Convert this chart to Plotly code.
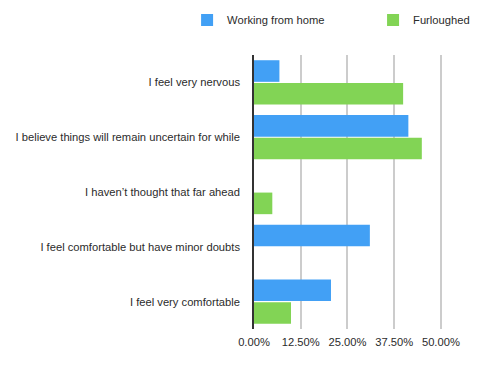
import plotly.graph_objects as go

categories = [
    "I feel very nervous",
    "I believe things will remain uncertain for while",
    "I haven\u2019t thought that far ahead",
    "I feel comfortable but have minor doubts",
    "I feel very comfortable",
]
working_from_home = [0.068, 0.413, 0.0, 0.310, 0.206]
furloughed = [0.399, 0.449, 0.049, 0.0, 0.099]
tick_values = [0, 0.125, 0.25, 0.375, 0.5]
tick_labels = ["0.00%", "12.50%", "25.00%", "37.50%", "50.00%"]

font = dict(family="Liberation Sans, Arial, Helvetica, sans-serif", size=11.2, color="#2b2b2b")

fig = go.Figure()
fig.add_trace(go.Bar(y=categories, x=working_from_home, orientation="h",
                     name="Working from home", legend="legend",
                     marker=dict(color="#42A0F5", line=dict(width=0))))
fig.add_trace(go.Bar(y=categories, x=furloughed, orientation="h",
                     name="Furloughed", legend="legend2",
                     marker=dict(color="#82D455", line=dict(width=0))))

leg = dict(orientation="h", yanchor="middle", y=0.967, xanchor="left",
           xref="container", yref="container", font=font, itemwidth=30,
           bgcolor="rgba(0,0,0,0)")

fig.update_layout(
    width=492, height=363,
    margin=dict(l=246, r=58, t=47, b=42, autoexpand=False),
    paper_bgcolor="white", plot_bgcolor="white",
    font=font,
    barmode="group", bargap=0.17, bargroupgap=0.05,
    showlegend=True,
    legend=dict(leg, x=0.364),
    legend2=dict(leg, x=0.742),
    xaxis=dict(range=[0, 0.503], tickvals=tick_values, ticktext=tick_labels,
               showgrid=True, gridcolor="#CCCCCC", gridwidth=1.5, automargin=False,
               zeroline=False, showline=False, ticks="", ticklabelstandoff=5,
               fixedrange=True),
    yaxis=dict(autorange="reversed", showgrid=False, showline=True, automargin=False,
               linecolor="#333333", linewidth=1.5, ticks="", ticklabelstandoff=10,
               zeroline=False, fixedrange=True),
)

fig.write_html("out.html")
